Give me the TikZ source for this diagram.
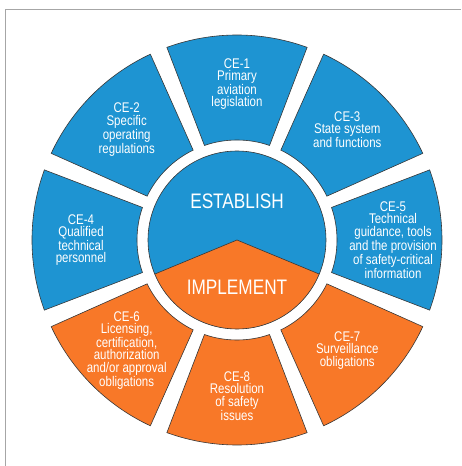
\documentclass[tikz,border=0pt]{standalone}
\usepackage{fontspec}
\setmainfont{Liberation Sans}[FakeStretch=0.82]
\usepackage{xcolor}
\definecolor{ceblue}{RGB}{30,148,210}
\definecolor{ceorange}{RGB}{248,120,40}
\definecolor{celine}{RGB}{55,55,55}

\begin{document}
\begin{tikzpicture}[
      x=1pt, y=1pt,
      seg/.style={draw=celine, line width=0.6pt},
      label/.style={align=center, text=white,
                    font=\fontsize{14}{12.4}\selectfont, inner sep=0pt},
      big/.style={text=white, font=\fontsize{21}{21}\selectfont, inner sep=0pt}
    ]
    \useasboundingbox (-237,-226) rectangle (224,240);
    % frame
    \draw[gray!70, line width=1pt] (-231,-226) -- (-231,230) -- (224,230);

    % outer ring of critical elements
    \foreach \ang/\col/\nm/\txt in {
        90/ceblue/ce1/{CE-1\\Primary\\aviation\\legislation},
        135/ceblue/ce2/{CE-2\\Specific\\operating\\regulations},
        45/ceblue/ce3/{CE-3\\State system\\and functions},
        180/ceblue/ce4/{CE-4\\Qualified\\technical\\personnel},
        0/ceblue/ce5/{CE-5\\Technical\\guidance, tools\\and the provision\\of safety-critical\\information},
        225/ceorange/ce6/{CE-6\\Licensing,\\certification,\\authorization\\and/or approval\\obligations},
        315/ceorange/ce7/{CE-7\\Surveillance\\obligations},
        270/ceorange/ce8/{CE-8\\Resolution\\of safety\\issues}} {
      \draw[seg, fill=\col] (\ang-20:205)
        arc[start angle=\ang-20, end angle=\ang+20, radius=205]
        -- (\ang+19:100)
        arc[start angle=\ang+19, end angle=\ang-19, radius=100] -- cycle;
      \node[label] (\nm) at (\ang:156) {\txt};
    }

    % centre disc
    \fill[ceblue] (0,0) circle[radius=89];
    \fill[ceorange] (0,0) -- (202.5:89)
      arc[start angle=202.5, end angle=337.5, radius=89] -- cycle;
    \draw[seg] (202.5:89) -- (0,0) -- (337.5:89);
    \draw[seg] (0,0) circle[radius=89];
    \node[big] (establish) at (0,39) {ESTABLISH};
    \node[big] (implement) at (0,-47) {IMPLEMENT};
  \end{tikzpicture}
\end{document}
